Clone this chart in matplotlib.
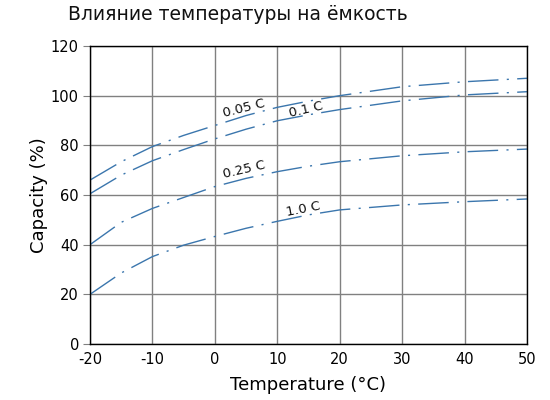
import matplotlib
matplotlib.use("Agg")
from matplotlib import pyplot as plt

# temperature points (°C) and capacity (%)
temps = [-20, -15, -10, -5, 0, 5, 10, 15, 20, 30, 40, 50]
cap_005 = [66, 73.4, 79.5, 84, 88, 92, 95.3, 97.8, 100, 103.6, 105.6, 107]
cap_01 = [60.5, 68, 73.8, 78.3, 82.6, 86.5, 89.9, 92.3, 94.4, 97.9, 100.3, 101.6]
cap_025 = [40, 49, 54.6, 59, 63.4, 66.7, 69.4, 71.6, 73.4, 75.8, 77.4, 78.5]
cap_10 = [20, 28.6, 35.2, 39.8, 43.3, 46.6, 49.4, 52, 54, 56, 57.3, 58.4]

series = [cap_005, cap_01, cap_025, cap_10]
labels = ["0.05 C", "0.1 C", "0.25 C", "1.0 C"]
# label anchor (x, y, rotation)
label_pos = [(4.7, 94.8, 14), (14.6, 94.4, 13), (4.7, 70.3, 13), (14.1, 54.2, 11)]

x_ticks = [-20, -10, 0, 10, 20, 30, 40, 50]
y_ticks = [0, 20, 40, 60, 80, 100, 120]

plt.rcParams['font.family'] = ['DejaVu Sans']
plt.rcParams['axes.unicode_minus'] = False
line_color = '#3b76ad'

fig = plt.figure(figsize=(5.5, 4.0), dpi=100)
ax = fig.add_axes([90/550, 1-344/400, (527-90)/550, (344-46)/400])

for vals in series:
    ax.plot(temps, vals, color=line_color, lw=1.0, dashes=(22, 6, 1.5, 6))

for lab, (tx, ty, rot) in zip(labels, label_pos):
    ax.text(tx, ty, lab, fontsize=9.5, rotation=rot, ha='center', va='center',
            rotation_mode='anchor', color='#111111')

ax.set_xlim(-20, 50)
ax.set_ylim(0, 120)
ax.set_xticks(x_ticks)
ax.set_yticks(y_ticks)
ax.grid(color='#808080', lw=1.0)
ax.set_axisbelow(True)
for s in ax.spines.values():
    s.set_color('black')
    s.set_linewidth(1.0)
ax.tick_params(axis='y', length=5, color='#808080', labelsize=10.5, pad=3)
ax.tick_params(axis='x', length=0, labelsize=10.5, pad=6)

ax.set_xlabel('Temperature (°C)', fontsize=13, labelpad=6)
ax.set_ylabel('Capacity (%)', fontsize=13, labelpad=2)

fig.text(68/550, 1-14/400, 'Влияние температуры на ёмкость', fontsize=13.5,
         ha='left', va='center', color='#111111')

fig.savefig('out.png', dpi=100)
plt.close()
